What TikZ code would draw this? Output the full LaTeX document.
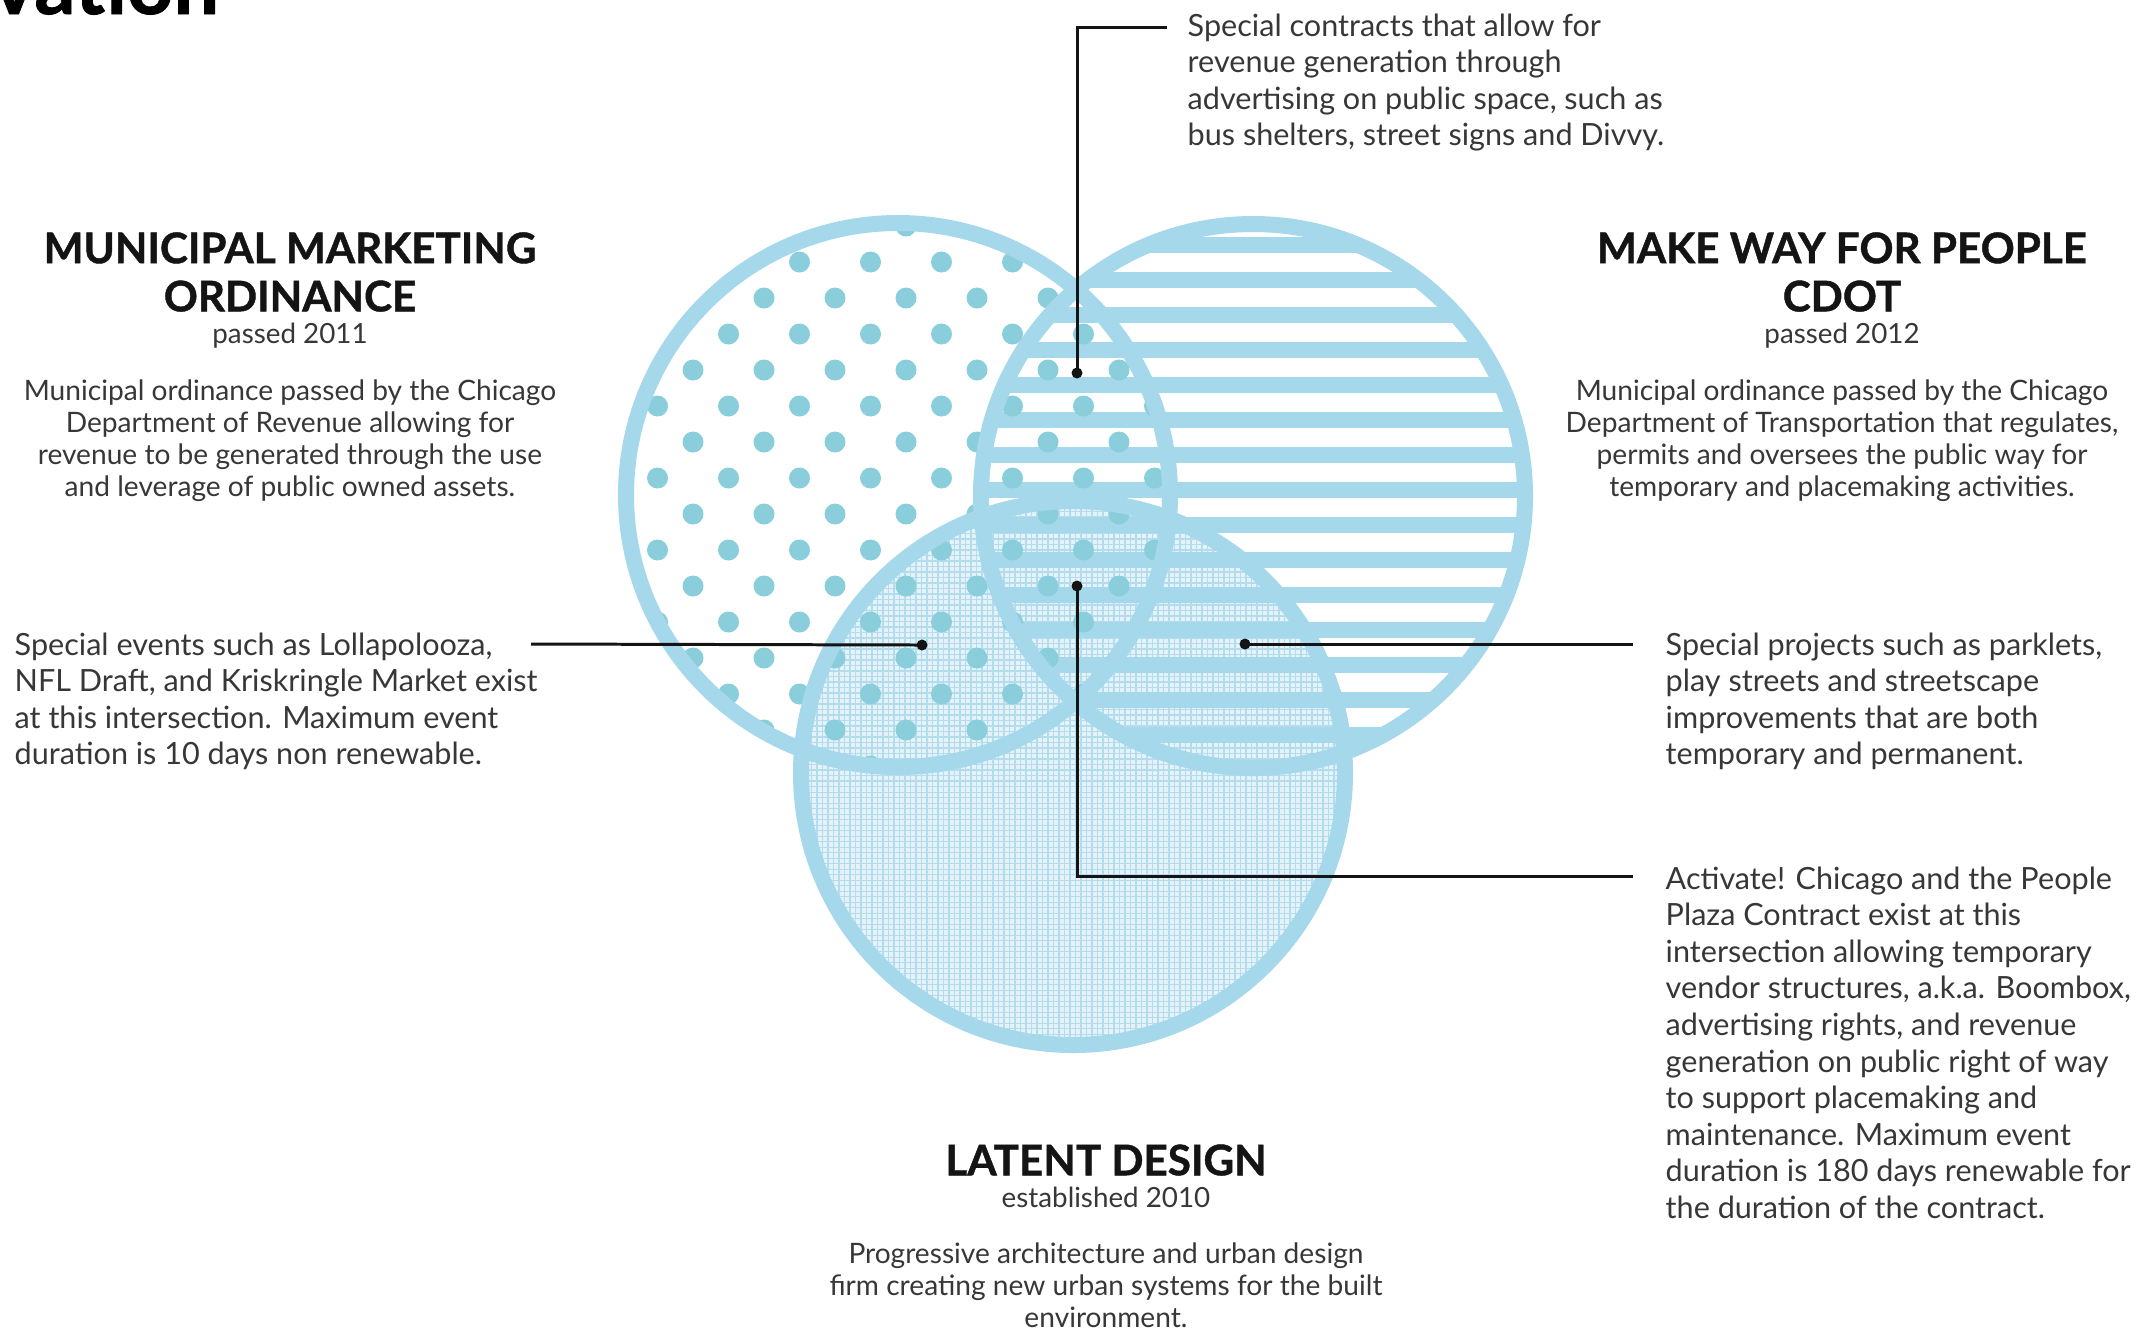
\documentclass[tikz,border=0pt]{standalone}
\usepackage{fontspec}
\setmainfont{Lato}
\newfontfamily\headfont[BoldFeatures={FakeBold=1}]{Lato}
\usetikzlibrary{positioning}

\definecolor{ringblue}{RGB}{164,216,234}
\definecolor{dotblue}{RGB}{138,206,220}
\definecolor{gridfill}{RGB}{228,243,250}
\definecolor{gridline}{RGB}{180,220,237}
\definecolor{inkdark}{RGB}{20,20,20}
\definecolor{inkgray}{RGB}{55,55,55}

\begin{document}
\begin{tikzpicture}[x=0.01cm,y=-0.01cm,
    ring/.style={draw=ringblue,line width=0.16cm},
    pin/.style={circle,fill=inkdark,inner sep=0pt,minimum size=0.11cm},
    leader/.style={draw=inkdark,line width=0.85pt},
    headtext/.style={font=\headfont\fontsize{12}{13.7}\selectfont\bfseries,text=inkdark,align=center,inner sep=0pt},
    yeartext/.style={font=\fontsize{7.9}{9}\selectfont,text=inkgray,align=center,inner sep=0pt},
    blurb/.style={font=\fontsize{8}{9.1}\selectfont,text=inkgray,align=center,inner sep=0pt},
    note/.style={font=\fontsize{8.7}{10.4}\selectfont,text=inkgray,align=left,inner sep=0pt,anchor=north west}]

  \useasboundingbox (0,0) rectangle (2152,1332);
  \clip (0,0) rectangle (2152,1332);

  % circle centres
  \coordinate (mmo) at (898,495);
  \coordinate (mwp) at (1253,496);
  \coordinate (lat) at (1073,773);

  % latent design: fine grid
  \begin{scope}
    \clip (lat) circle (272);
    \fill[gridfill] (lat) circle (272);
    \foreach \g in {0,...,102}{
      \draw[gridline,line width=0.3pt] ({795+5.5*\g},495) -- ({795+5.5*\g},1055);
      \draw[gridline,line width=0.3pt] (795,{495+5.5*\g}) -- (1355,{495+5.5*\g});
    }
  \end{scope}

  % make way for people: stripes
  \begin{scope}
    \clip (mwp) circle (272);
    \foreach \k in {-9,...,8}
      \fill[ringblue] (975,{525+35*\k-8}) rectangle (1535,{525+35*\k+8});
  \end{scope}

  % marketing ordinance: dots
  \begin{scope}
    \clip (mmo) circle (272);
    \foreach \r in {-8,...,8}
      \foreach \c in {-5,...,4}
        \fill[dotblue] ({906+71*\c+35.5*mod(\r+8,2)},{514+36*\r}) circle (10.5);
  \end{scope}

  \draw[ring] (mmo) circle (272) (mwp) circle (272) (lat) circle (272);

  % cut off page title
  \node[font=\headfont\fontsize{23}{28}\selectfont\bfseries,text=black,anchor=base west,inner sep=0pt] (pageTitle) at (-8,14) {vation};

  % headings
  \node[headtext] (mmoTitle) at (290,272) {MUNICIPAL MARKETING\\ORDINANCE};
  \node[yeartext,below=2.8pt of mmoTitle] (mmoYear) {passed 2011};
  \node[blurb,below=8.5pt of mmoYear] (mmoText) {Municipal ordinance passed by the Chicago\\Department of Revenue allowing for\\revenue to be generated through the use\\and leverage of public owned assets.};

  \node[headtext] (mwpTitle) at (1842,272) {MAKE WAY FOR PEOPLE\\CDOT};
  \node[yeartext,below=2.8pt of mwpTitle] (mwpYear) {passed 2012};
  \node[blurb,below=8.5pt of mwpYear] (mwpText) {Municipal ordinance passed by the Chicago\\Department of Transportation that regulates,\\permits and oversees the public way for\\temporary and placemaking activities.};

  \node[headtext] (latTitle) at (1106,1160) {LATENT DESIGN};
  \node[yeartext,below=2.8pt of latTitle] (latYear) {established 2010};
  \node[blurb,below=9.5pt of latYear] (latText) {Progressive architecture and urban design\\firm creating new urban systems for the built\\environment.};

  % callouts
  \node[pin] (pinTop) at (1077,373) {};
  \node[pin] (pinMid) at (1077,586) {};
  \node[pin] (pinLeft) at (922,645) {};
  \node[pin] (pinRight) at (1245,644) {};

  \coordinate (endTop) at (1167,27);
  \coordinate (endLeft) at (531,644);
  \coordinate (endRight) at (1633,644);
  \coordinate (endMid) at (1633,876);

  \draw[leader] (pinTop.center) |- (endTop);
  \draw[leader] (endLeft) -- (pinLeft.center);
  \draw[leader] (pinRight.center) -- (endRight);
  \draw[leader] (pinMid.center) |- (endMid);

  \node[note] (noteTop) at (1187,13) {Special contracts that allow for\\revenue generation through\\advertising on public space, such as\\bus shelters, street signs and Divvy.};
  \node[note] (noteLeft) at (14,632) {Special events such as Lollapolooza,\\NFL Draft, and Kriskringle Market exist\\at this intersection. Maximum event\\duration is 10 days non renewable.};
  \node[note] (noteRight) at (1665,632) {Special projects such as parklets,\\play streets and streetscape\\improvements that are both\\temporary and permanent.};
  \node[note] (noteMid) at (1665,866) {Activate! Chicago and the People\\Plaza Contract exist at this\\intersection allowing temporary\\vendor structures, a.k.a. Boombox,\\advertising rights, and revenue\\generation on public right of way\\to support placemaking and\\maintenance. Maximum event\\duration is 180 days renewable for\\the duration of the contract.};
\end{tikzpicture}
\end{document}
